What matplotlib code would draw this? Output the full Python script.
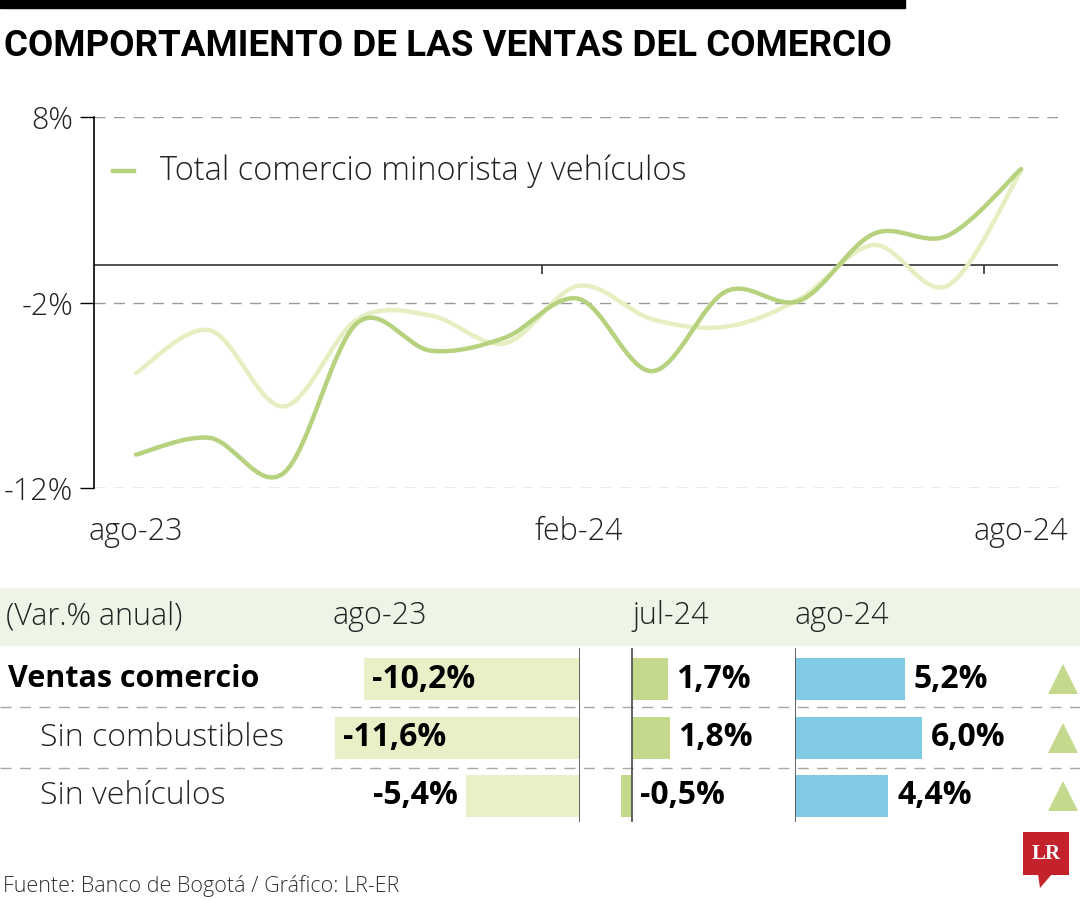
import numpy as np
import matplotlib
matplotlib.use("Agg")
import matplotlib.pyplot as plt
from matplotlib.path import Path
from matplotlib.patches import PathPatch, Rectangle, Polygon

# --- data -------------------------------------------------------------
months = ["ago-23", "sep-23", "oct-23", "nov-23", "dic-23", "ene-24", "feb-24",
          "mar-24", "abr-24", "may-24", "jun-24", "jul-24", "ago-24"]
ventas_total = [-10.2, -9.3, -11.2, -3.1, -4.6, -3.9, -1.8,
                -5.7, -1.4, -1.9, 1.7, 1.6, 5.2]
ventas_light = [-5.8, -3.5, -7.6, -2.9, -2.7, -4.2, -1.1,
                -2.9, -3.3, -1.8, 1.1, -1.1, 5.1]
xtick_idx = [0, 6, 12]
ytick_vals = [8, -2, -12]
ytick_labels = ["8%", "-2%", "-12%"]

row_labels = ["Ventas comercio", "Sin combustibles", "Sin vehículos"]
col_labels = ["ago-23", "jul-24", "ago-24"]
val_ago23 = [-10.2, -11.6, -5.4]
val_jul24 = [1.7, 1.8, -0.5]
val_ago24 = [5.2, 6.0, 4.4]

DARK = "#b7d27f"
LIGHT = "#e6efc2"
C_AGO23 = "#e9efc7"
C_JUL24 = "#c4d98b"
C_AGO24 = "#80cbe3"
BAND = "#eef5e7"

W, H = 1080, 900
plt.rcParams['font.family'] = ['Open Sans', 'DejaVu Sans']


def frect(x0, y0, x1, y1):
    # pixel box (top-left origin) -> figure rect
    return [x0 / W, 1 - y1 / H, (x1 - x0) / W, (y1 - y0) / H]


def smooth_path(xs, ys):
    # Catmull-Rom curve through the points, as cubic bezier segments
    p = np.column_stack([xs, ys]).astype(float)
    pp = np.vstack([p[0], p, p[-1]])
    verts = [p[0]]
    codes = [Path.MOVETO]
    for i in range(len(p) - 1):
        p0, p1, p2, p3 = pp[i], pp[i + 1], pp[i + 2], pp[i + 3]
        verts += [p1 + (p2 - p0) / 6, p2 - (p3 - p1) / 6, p2]
        codes += [Path.CURVE4] * 3
    return Path(verts, codes)


fig = plt.figure(figsize=(10.8, 9), dpi=100)
fig.patch.set_facecolor("white")

# overlay in pixel coordinates for decorations
ax0 = fig.add_axes([0, 0, 1, 1], zorder=0)
ax0.set_xlim(0, W)
ax0.set_ylim(H, 0)
ax0.axis("off")

ax0.add_patch(Rectangle((0, 0), 905, 8, color="black"))
title = ax0.text(4, 46, "COMPORTAMIENTO DE LAS VENTAS DEL COMERCIO",
                 fontsize=28, fontweight="bold", family=["Roboto", "DejaVu Sans"],
                 va="center", ha="left", color="black")
# shrink title so it spans about 888 px like the original
r = fig.canvas.get_renderer()
tw = title.get_window_extent(renderer=r).width
title.set_fontsize(28 * 888 / tw)

# --- line chart -------------------------------------------------------
ax = fig.add_axes(frect(94, 117, 1058, 488), zorder=2)
ax.patch.set_alpha(0)
x = np.arange(len(months))
ax.set_xlim(-0.57, 12.5)
ax.set_ylim(-12, 8)
for s in ["top", "right", "bottom"]:
    ax.spines[s].set_visible(False)
ax.spines["left"].set_linewidth(1.2)
ax.set_yticks(ytick_vals)
ax.set_yticklabels(ytick_labels, fontsize=22, fontweight="light", color="#222")
ax.tick_params(axis="y", length=10, width=1, pad=5)
for v in ytick_vals:
    ax.axhline(v, color="#9a9a9a", lw=1, dashes=(8, 6), zorder=1)
ax.axhline(0, color="#333", lw=1.2, zorder=1)
ax.vlines([5.5, 11.5], -0.45, 0, color="#333", lw=1.2)
ax.set_xticks(xtick_idx)
ax.set_xticklabels([months[i] for i in xtick_idx], fontsize=22, fontweight="light", color="#222")
ax.tick_params(axis="x", length=0, pad=20)

ax.add_patch(PathPatch(smooth_path(x, ventas_light), fill=False, ec=LIGHT, lw=3.2,
                       capstyle="round", zorder=3))
ax.add_patch(PathPatch(smooth_path(x, ventas_total), fill=False, ec=DARK, lw=3.2,
                       capstyle="round", zorder=4))

# legend
ax0.plot([113, 134], [171, 171], color=DARK, lw=3.2)
ax0.text(160, 171, "Total comercio minorista y vehículos", fontsize=23.5,
         fontweight="light", va="center", ha="left", color="#222")

# --- table ------------------------------------------------------------
ax0.add_patch(Rectangle((0, 588), W, 58, color=BAND, lw=0))
ax0.text(6, 616, "(Var.% anual)", fontsize=22, fontweight="light", va="center", color="#222")
for lab, px in zip(col_labels, [333, 632, 795]):
    ax0.text(px, 616, lab, fontsize=22, fontweight="light", va="center", color="#222")

row_y = [679, 737.5, 796]
for i, lab in enumerate(row_labels):
    if i == 0:
        ax0.text(8, row_y[i], lab, fontsize=22, fontweight="bold", va="center", color="black")
    else:
        ax0.text(40, row_y[i], lab, fontsize=23, fontweight="light", va="center", color="#222")
for yy in [707, 768]:
    ax0.plot([0, W], [yy, yy], color="#a8a8a8", lw=1, dashes=(8, 6))

SC = 21.15  # px per percentage point
ylim_rows = ((822 - 679) / 58.5, (648 - 679) / 58.5)
bar_h = 42 / 58.5
rows = np.arange(3)


def fmt(v):
    return f"{v:.1f}%".replace(".", ",")


def bar_axes(px0, px1, base_px, vals, color):
    a = fig.add_axes(frect(px0, 648, px1, 822), zorder=3)
    a.patch.set_alpha(0)
    a.set_xlim((px0 - base_px) / SC, (px1 - base_px) / SC)
    a.set_ylim(*ylim_rows)
    a.axis("off")
    a.barh(rows, vals, height=bar_h, color=color, lw=0)
    a.axvline(0, color="#555", lw=1.3)
    return a


VF = 23
a1 = bar_axes(300, 580, 580, val_ago23, C_AGO23)
for r_, v in zip(rows, val_ago23):
    if v < -8:
        a1.text(v + 8 / SC, r_, fmt(v), fontsize=VF, fontweight="bold", va="center", ha="left")
    else:
        a1.text(v - 8 / SC, r_, fmt(v), fontsize=VF, fontweight="bold", va="center", ha="right")

a2 = bar_axes(600, 780, 632, val_jul24, C_JUL24)
for r_, v in zip(rows, val_jul24):
    a2.text(max(v, 0) + 8 / SC, r_, fmt(v), fontsize=VF, fontweight="bold", va="center", ha="left")

a3 = bar_axes(795, 1080, 795, val_ago24, C_AGO24)
for r_, v in zip(rows, val_ago24):
    a3.text(v + 9 / SC, r_, fmt(v), fontsize=VF, fontweight="bold", va="center", ha="left")
    up = v > 0
    a3.plot([0.942], [r_], marker="^" if up else "v", ms=22, color=C_JUL24, mew=0,
            transform=a3.get_yaxis_transform())

# --- footer -----------------------------------------------------------
ax0.text(3, 886, "Fuente: Banco de Bogotá / Gráfico: LR-ER", fontsize=15.5,
         fontweight="light", va="center", color="#333")
ax0.add_patch(Rectangle((1023, 832), 46, 43, color="#c4222b", lw=0))
ax0.add_patch(Polygon([[1038, 874], [1052, 874], [1040, 888]], closed=True, color="#c4222b", lw=0))
ax0.text(1046, 854, "LR", fontsize=15, fontweight="bold", family="Liberation Serif",
         color="white", ha="center", va="center")

fig.savefig("out.png", dpi=100, facecolor="white")
